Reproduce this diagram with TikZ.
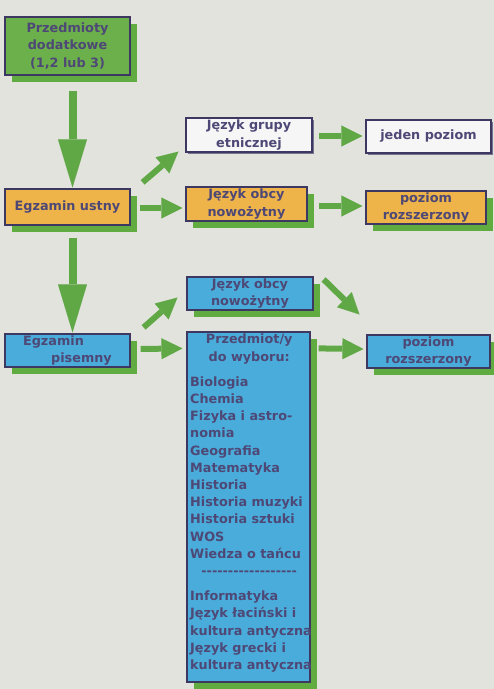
\documentclass[tikz,border=0pt]{standalone}
\usepackage{fontspec}
\setmainfont{DejaVu Sans}
\usetikzlibrary{arrows.meta,shadows}
\definecolor{bg}{RGB}{227,227,222}
\definecolor{txt}{RGB}{78,72,118}
\definecolor{edge}{RGB}{60,56,98}
\definecolor{gfill}{RGB}{108,176,76}
\definecolor{ofill}{RGB}{238,180,74}
\definecolor{bfill}{RGB}{74,172,218}
\definecolor{wfill}{RGB}{246,246,246}
\definecolor{shad}{RGB}{96,172,64}
\definecolor{arr}{RGB}{96,168,70}
\begin{document}
\begin{tikzpicture}[x=1pt,y=-1pt,
  box/.style={draw=edge, line width=1.2pt, text=txt,
    font=\fontsize{12.8}{17.2}\selectfont\bfseries, align=center, inner sep=0pt},
  gshadow/.style={drop shadow={shadow xshift=7pt, shadow yshift=-7pt, fill=shad, opacity=1}},
  wshadow/.style={drop shadow={shadow xshift=2pt, shadow yshift=-2pt, fill=edge!70, opacity=1}},
  bigarrow/.style={draw=arr, line width=8pt, -{Triangle[width=29pt,length=48pt,line width=0.01pt]}},
  smallarrow/.style={draw=arr, line width=6pt, -{Triangle[width=21pt,length=21pt,line width=0.01pt]}},
]
\fill[bg] (0,0) rectangle (494,689);
\useasboundingbox (0,0) rectangle (494,689);

\node[box, fill=gfill, gshadow, minimum width=125pt, minimum height=58pt] (dod) at (67.5,46) {Przedmioty\\dodatkowe\\(1,2 lub 3)};
\node[box, fill=ofill, gshadow, minimum width=125pt, minimum height=36pt] (ustny) at (67.5,207) {Egzamin ustny};
\node[box, fill=bfill, gshadow, minimum width=125pt, minimum height=33pt] (pis) at (67.5,350.5) {Egzamin\hspace*{28pt}\\\hspace*{28pt}pisemny};

\node[box, fill=wfill, wshadow, minimum width=126pt, minimum height=34pt] (grupa) at (249,135) {Język grupy\\etnicznej};
\node[box, fill=wfill, wshadow, minimum width=125pt, minimum height=33pt] (jeden) at (428.5,136.5) {jeden poziom};
\node[box, fill=ofill, gshadow, minimum width=121pt, minimum height=34pt] (obcy1) at (246.5,204) {Język obcy\\nowożytny};
\node[box, fill=ofill, gshadow, minimum width=120pt, minimum height=33pt] (roz1) at (426,207.5) {poziom\\rozszerzony};
\node[box, fill=bfill, gshadow, minimum width=126pt, minimum height=33pt] (obcy2) at (250,293.5) {Język obcy\\nowożytny};
\node[box, fill=bfill, gshadow, minimum width=123pt, minimum height=33pt] (roz2) at (428.5,351.5) {poziom\\rozszerzony};
\node[box, fill=bfill, gshadow, minimum width=123pt, minimum height=350pt] (wyb) at (248.5,507) {};
\node[text=txt, font=\fontsize{12.8}{17.2}\selectfont\bfseries, align=left, inner sep=0pt, anchor=north west] (wybtxt) at (190,334)
{\makebox[118pt][c]{Przedmiot/y}\\
 \makebox[118pt][c]{do wyboru:}\\[8pt]
 Biologia\\
 Chemia\\
 Fizyka i astro-\\
 nomia\\
 Geografia\\
 Matematyka\\
 Historia\\
 Historia muzyki\\
 Historia sztuki\\
 WOS\\
 Wiedza o tańcu\\
 \makebox[118pt][c]{-{}-{}-{}-{}-{}-{}-{}-{}-{}-{}-{}-{}-{}-{}-{}-{}-{}-{}}\\[8pt]
 Informatyka\\
 Język łaciński i\\
 kultura antyczna\\
 Język grecki i\\
 kultura antyczna};

\draw[bigarrow, shorten <=15pt, shorten >=1pt] ([xshift=5pt]dod.south) -- ([xshift=5pt]ustny.north);
\draw[bigarrow, shorten <=12pt, shorten >=1pt] ([xshift=5pt]ustny.south) -- ([xshift=5pt]pis.north);

\draw[smallarrow] ([shift={(12,-6)}]ustny.north east) -- ([shift={(-7,-1)}]grupa.south west);
\draw[smallarrow] ([shift={(9,1)}]ustny.east) -- ([shift={(-3,4)}]obcy1.west);
\draw[smallarrow] ([shift={(6,1)}]grupa.east) -- ([shift={(-3,-0.5)}]jeden.west);
\draw[smallarrow] ([shift={(11,2)}]obcy1.east) -- ([shift={(-3,-1.5)}]roz1.west);

\draw[smallarrow] ([shift={(13,-6)}]pis.north east) -- ([shift={(-9,-13)}]obcy2.south west);
\draw[smallarrow] ([shift={(10,-1.5)}]pis.east) -- ([shift={(-4,17)}]wyb.north west);
\draw[smallarrow] ([shift={(10,3)}]obcy2.north east) -- ([shift={(-7,-20)}]roz2.north west);
\draw[smallarrow] ([shift={(8,17)}]wyb.north east) -- ([shift={(-3,-2.5)}]roz2.west);
\end{tikzpicture}
\end{document}
